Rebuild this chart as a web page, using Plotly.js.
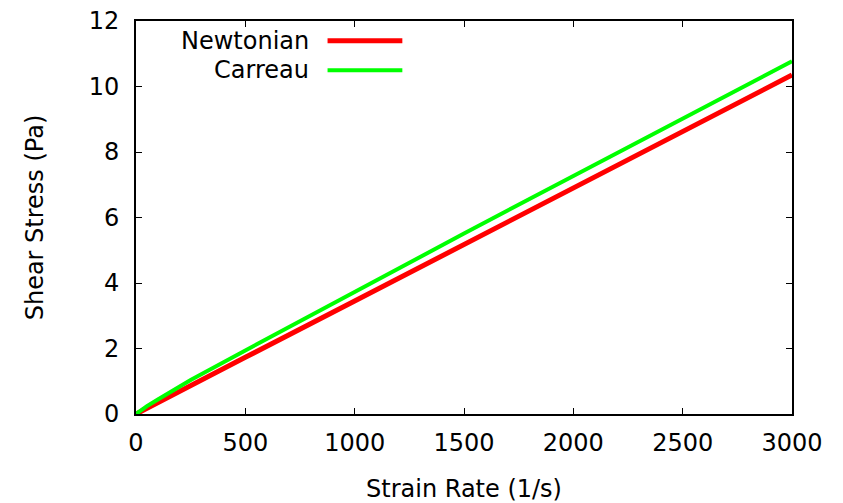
<!DOCTYPE html>
<html>
<head>
<meta charset="utf-8">
<script src="https://cdn.plot.ly/plotly-3.0.1.min.js"></script>
<style>html,body{margin:0;padding:0;background:#fff;}#chart{width:843px;height:503px;}</style>
</head>
<body>
<div id="chart"></div>
<script>
// Strain rate (1/s)
const strainRate = [0, 50, 100, 250, 500, 1000, 1500, 2000, 2500, 3000];
// Shear stress (Pa)
const newtonian = [0, 0.17, 0.35, 0.86, 1.73, 3.45, 5.18, 6.90, 8.63, 10.35];
const carreau   = [0, 0.24, 0.44, 1.04, 1.94, 3.73, 5.51, 7.27, 9.02, 10.77];
const seriesNames = ["Newtonian", "Carreau"];
const seriesColors = ["#ff0000", "#00ff00"];
const xTicks = [0, 500, 1000, 1500, 2000, 2500, 3000];
const yTicks = [0, 2, 4, 6, 8, 10, 12];

const font = {family: "DejaVu Sans, Arial, sans-serif", size: 24, color: "#000"};

const traces = [
  {x: strainRate, y: newtonian, name: seriesNames[0], mode: "lines",
   line: {color: seriesColors[0], width: 5}},
  {x: strainRate, y: carreau, name: seriesNames[1], mode: "lines",
   line: {color: seriesColors[1], width: 4}}
];

const legY = [0.95, 0.875];
const annotations = seriesNames.map((n, i) => ({
  xref: "paper", yref: "paper", x: 0.267, y: legY[i], text: n,
  showarrow: false, xanchor: "right", yanchor: "middle", font: font
}));
const shapes = seriesNames.map((n, i) => ({
  type: "line", xref: "paper", yref: "paper", x0: 0.292, x1: 0.406, y0: legY[i], y1: legY[i],
  line: {color: seriesColors[i], width: i === 0 ? 5 : 4}
}));

const axisCommon = {
  showline: true, linecolor: "#000", linewidth: 2, mirror: "ticks",
  ticks: "inside", ticklen: 6, tickwidth: 1, tickcolor: "#000",
  showgrid: false, zeroline: false, tickfont: font
};

const layout = {
  width: 843, height: 503,
  margin: {l: 136, r: 51, t: 21, b: 89},
  paper_bgcolor: "#fff", plot_bgcolor: "#fff",
  showlegend: false,
  font: font,
  xaxis: Object.assign({}, axisCommon, {
    range: [0, 3000], tickvals: xTicks, ticktext: xTicks.map(String),
    ticklabelstandoff: 6,
    title: {text: "Strain Rate (1/s)", font: font, standoff: 24}
  }),
  yaxis: Object.assign({}, axisCommon, {
    range: [0, 12], tickvals: yTicks, ticktext: yTicks.map(String),
    ticklabelstandoff: 10,
    title: {text: "Shear Stress (Pa)", font: font, standoff: 38}
  }),
  annotations: annotations,
  shapes: shapes
};

Plotly.newPlot("chart", traces, layout, {displayModeBar: false, staticPlot: true});
</script>
</body>
</html>
